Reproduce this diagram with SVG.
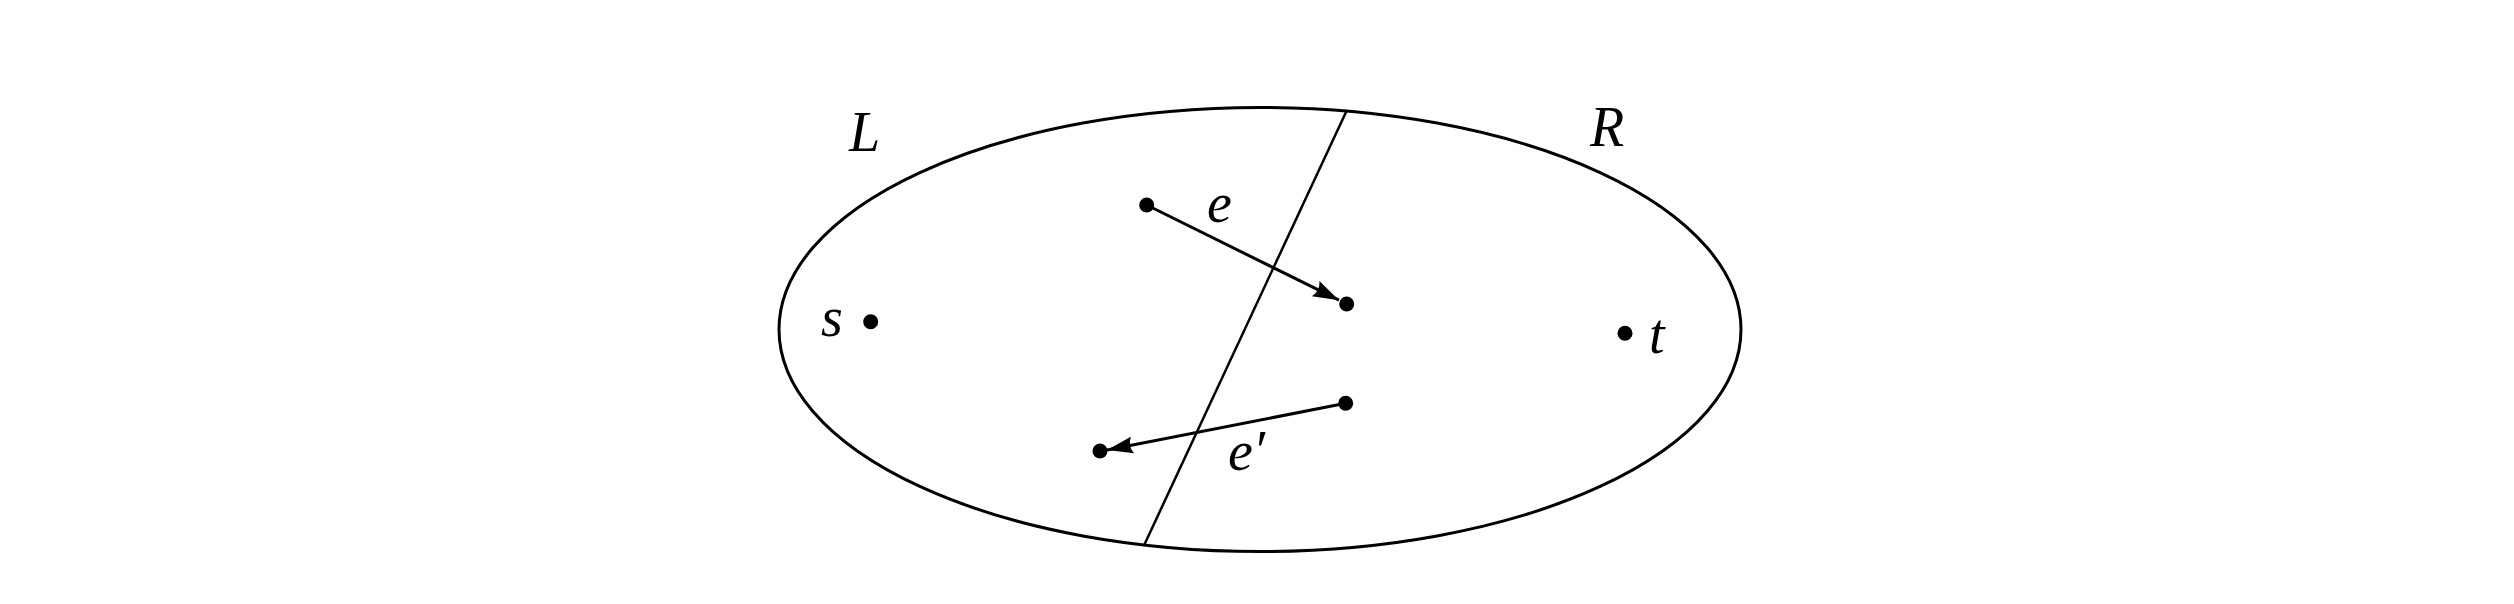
<svg xmlns="http://www.w3.org/2000/svg" width="2514" height="604" viewBox="0 0 2514 604">
<style>
.stroke{fill:none;stroke:#000;stroke-width:3}
.thin{fill:none;stroke:#000;stroke-width:2.5}
.dot{fill:#000}
.lbl{font-family:"Liberation Serif","DejaVu Serif",serif;font-style:italic;font-size:56px;fill:#000}
</style>
<defs>
<marker id="arr" markerUnits="userSpaceOnUse" markerWidth="40" markerHeight="30" viewBox="-30 -15 40 30" refX="0" refY="0" orient="auto">
<path d="M0,0 L-26,-8.5 Q-21,0 -26,8.5 Z" fill="#000"/>
</marker>
</defs>
<rect width="2514" height="604" fill="#fff"/>
<g id="region">
<ellipse cx="1260" cy="329.5" rx="481" ry="222" class="stroke"/>
<line x1="1347" y1="110" x2="1144.2" y2="545" class="thin"/>
<text class="lbl" x="849" y="151">L</text>
<text class="lbl" x="1590" y="146">R</text>
</g>
<g id="node-s"><circle cx="870.7" cy="321.7" r="7.5" class="dot"/><text class="lbl" x="821" y="336">s</text></g>
<g id="node-t"><circle cx="1625" cy="333.3" r="7.5" class="dot"/><text class="lbl" x="1649" y="353">t</text></g>
<g id="node-a"><circle cx="1146.7" cy="205" r="7.5" class="dot"/></g>
<g id="node-b"><circle cx="1346.7" cy="304" r="7.5" class="dot"/></g>
<g id="node-c"><circle cx="1345.7" cy="403.3" r="7.5" class="dot"/></g>
<g id="node-d"><circle cx="1100" cy="451" r="7.5" class="dot"/></g>
<g id="connectors">
<line x1="1146.7" y1="205" x2="1339" y2="300.2" class="stroke" marker-end="url(#arr)"/>
<line x1="1345.7" y1="403.3" x2="1107" y2="450" class="stroke" marker-end="url(#arr)"/>
<text class="lbl" x="1207" y="222">e</text>
<text class="lbl" x="1228" y="470">e′</text>
</g>
</svg>
